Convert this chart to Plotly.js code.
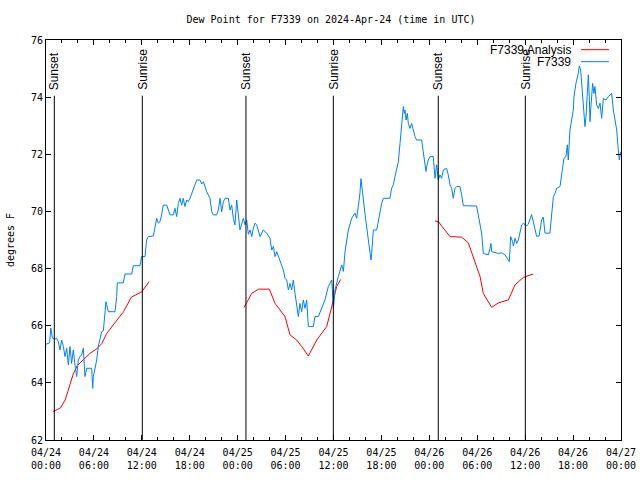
<!DOCTYPE html>
<html>
<head>
<meta charset="utf-8">
<script src="https://cdn.plot.ly/plotly-3.0.1.min.js"></script>
<style>html,body{margin:0;padding:0;background:#fff;}#chart{width:640px;height:480px;}</style>
</head>
<body>
<div id="chart"></div>
<script>
// Hours after 2024-04-24 00:00 UTC
const stationHours = [0.0,0.45,0.6,0.8,1.13,1.34,1.54,1.75,1.96,2.17,2.38,2.59,2.8,3.0,3.21,3.42,3.63,3.84,4.05,4.26,4.47,4.67,4.88,5.09,5.72,5.85,5.93,6.35,6.55,6.76,6.97,7.18,7.39,7.51,7.6,7.8,8.64,8.85,8.93,9.68,9.89,10.73,10.93,11.77,11.98,12.4,12.6,12.81,13.44,13.65,13.86,14.06,14.27,14.48,14.69,15.11,15.32,15.53,15.94,16.15,16.36,16.57,16.78,16.99,17.19,17.4,17.62,17.82,18.03,18.24,18.66,18.87,19.28,19.5,19.71,19.91,20.12,20.54,20.75,20.96,21.37,21.58,21.8,22.0,22.21,22.41,22.83,23.04,23.25,23.46,23.66,23.88,24.08,24.29,24.71,24.92,25.13,25.34,25.55,25.76,25.96,26.17,26.38,26.8,27.21,27.63,28.05,28.26,28.47,28.68,28.89,29.3,29.72,29.93,30.14,30.35,30.55,30.76,30.97,31.18,31.39,31.6,31.8,32.02,32.22,32.43,32.64,32.85,33.47,33.68,34.1,34.52,34.93,35.35,35.78,35.99,36.19,36.6,37.03,37.24,37.44,37.86,38.28,38.69,38.9,39.1,39.31,39.44,39.7,39.95,40.2,40.45,40.7,40.78,40.99,41.41,41.61,41.82,42.03,42.24,43.07,43.28,43.49,43.7,43.91,44.12,44.33,44.54,44.74,44.87,44.95,45.08,45.24,45.37,45.58,45.79,45.99,46.2,46.41,47.04,47.24,47.45,47.58,47.66,47.87,48.08,48.49,48.71,48.91,49.12,49.33,49.54,49.75,50.16,50.37,50.59,50.79,51.0,51.21,51.42,51.84,52.05,52.25,53.92,54.13,54.35,54.55,54.76,55.39,55.6,55.72,55.81,56.64,57.06,57.47,57.76,58.01,58.1,58.18,58.43,58.52,58.73,58.94,59.15,59.36,59.56,59.77,60.2,60.39,60.6,60.81,61.01,61.22,61.43,61.75,62.06,62.27,62.48,63.1,63.32,63.53,63.74,63.95,64.36,64.57,64.7,64.86,65.11,65.28,65.4,65.49,65.61,65.82,66.03,66.11,66.36,66.65,66.78,66.95,67.08,67.28,67.37,67.49,67.62,67.78,67.91,68.03,68.12,68.2,68.45,68.61,68.74,68.95,69.16,69.37,69.58,69.79,70.12,70.41,70.83,71.04,71.25,71.46,71.66,71.79,71.96];
const stationDew = [65.35,65.4,65.92,65.57,65.53,65.56,65.44,65.15,65.5,65.27,64.92,65.21,64.63,65.27,64.68,65.15,64.63,64.22,64.8,64.92,64.98,65.21,64.22,64.51,64.51,63.81,64.22,64.8,65.27,65.56,65.79,65.82,66.55,66.84,66.73,66.49,66.49,67.02,67.5,67.5,67.81,67.81,68.1,68.1,68.42,68.42,69.0,69.12,69.14,69.41,69.76,69.59,69.64,69.88,70.22,70.22,70.05,69.88,69.88,70.11,69.82,70.28,70.46,70.22,70.46,70.17,70.4,70.34,70.46,70.63,70.93,71.1,71.1,70.96,71.04,70.87,70.69,70.46,69.99,69.88,69.88,70.05,70.46,69.99,70.34,70.46,70.46,70.05,70.22,69.76,69.53,70.4,69.82,69.35,69.76,69.53,69.7,69.2,69.35,69.12,69.41,69.59,69.53,69.12,69.35,69.24,69.06,68.65,68.77,68.42,68.59,68.24,67.95,67.66,67.6,67.25,67.48,67.25,67.6,67.13,66.61,66.32,66.78,66.49,66.9,66.61,66.9,65.97,65.97,66.32,66.32,66.61,66.9,67.37,67.6,66.61,67.25,67.72,68.13,67.9,68.59,69.35,69.76,69.94,69.76,70.17,70.63,71.15,70.4,69.9,69.35,68.8,68.3,68.53,69.35,69.35,69.7,69.99,70.28,70.46,70.46,70.81,70.93,71.22,71.45,71.74,72.38,73.08,73.67,73.43,73.55,73.2,73.43,73.08,72.9,73.08,72.85,72.62,72.5,72.5,72.09,71.57,71.4,71.57,71.8,71.92,71.92,71.16,71.63,71.1,71.28,71.16,71.45,71.51,71.28,70.93,70.81,70.46,70.81,70.87,70.87,70.58,70.2,70.19,69.88,69.59,69.24,68.53,68.48,68.71,68.88,68.59,68.53,68.55,68.48,68.36,68.24,68.65,69.12,68.94,68.79,69.06,68.88,69.0,69.24,69.53,69.58,69.5,69.55,69.7,69.89,69.65,69.41,69.13,69.14,69.7,69.8,69.24,69.24,69.88,70.52,70.63,70.81,70.87,71.33,71.63,71.86,71.92,72.33,71.8,72.5,72.85,73.2,73.55,74.02,74.48,74.83,75.09,74.95,74.48,74.02,73.67,72.97,73.32,74.13,74.78,74.02,73.14,73.55,74.48,74.13,74.37,73.73,73.6,73.79,73.26,73.96,73.9,74.02,74.13,73.55,73.2,72.85,72.15,71.8,72.09];

const analysisHours = [0.9,1.8,2.4,3.0,3.4,3.9,4.7,5.5,6.4,7.0,7.6,8.9,9.7,10.7,12.0,12.9,null,24.8,25.76,26.6,27.97,28.68,29.93,30.55,31.39,32.02,32.85,33.9,35.15,35.78,36.4,36.9,null,48.71,49.13,50.59,52.05,52.88,53.72,54.35,54.76,55.81,56.64,57.89,58.73,59.77,61.0];
const analysisDew = [63.0,63.12,63.4,63.95,64.3,64.6,64.8,65.03,65.2,65.38,65.73,66.2,66.49,67.0,67.19,67.54,null,66.64,67.13,67.28,67.28,66.78,66.32,65.68,65.5,65.27,64.94,65.5,65.97,66.67,67.37,67.62,null,69.67,69.64,69.12,69.1,68.9,68.18,67.72,67.13,66.64,66.8,66.9,67.43,67.69,67.81];

const sunHours = [1.04, 12.06, 25.04, 35.98, 49.12, 60.02];
const sunLabels = ['Sunset','Sunrise','Sunset','Sunrise','Sunset','Sunrise'];

const seriesNames = ['F7339 Analysis', 'F7339'];
const seriesColors = ['#ff0000', '#0080ff'];

const base = Date.UTC(2024, 3, 24);
function toDate(h) {
  if (h === null) return null;
  const d = new Date(base + Math.round(h * 3600000));
  return d.toISOString().replace('T', ' ').slice(0, 19);
}

const mono = 'DejaVu Sans Mono, monospace';
const sans = 'Liberation Sans, Arial, sans-serif';

const traces = [
  {x: analysisHours.map(toDate), y: analysisDew, type: 'scatter', mode: 'lines',
   line: {color: seriesColors[0], width: 1}, name: seriesNames[0], showlegend: false, connectgaps: false},
  {x: stationHours.map(toDate), y: stationDew, type: 'scatter', mode: 'lines',
   line: {color: seriesColors[1], width: 1}, name: seriesNames[1], showlegend: false}
];

const shapes = [];
const annotations = [];
sunHours.forEach((h, i) => {
  shapes.push({type: 'line', xref: 'x', yref: 'y', x0: toDate(h), x1: toDate(h), y0: 62, y1: 74.05,
               line: {color: '#000', width: 1}});
  annotations.push({xref: 'x', yref: 'y', x: toDate(h), y: 74.18, text: sunLabels[i], textangle: -90,
                    showarrow: false, xanchor: 'center', yanchor: 'bottom',
                    font: {family: sans, size: 12, color: '#000'}});
});

// manual legend (text right-aligned, sample to the right)
const legY = [0.9758, 0.9458];
seriesNames.forEach((n, i) => {
  annotations.push({xref: 'paper', yref: 'paper', x: 0.9165, y: legY[i], text: n, showarrow: false,
                    xanchor: 'right', yanchor: 'middle', font: {family: sans, size: 12, color: '#000'}});
  shapes.push({type: 'line', xref: 'paper', yref: 'paper', x0: 0.9304, x1: 0.979, y0: legY[i], y1: legY[i],
               line: {color: seriesColors[i], width: 1}});
});

const layout = {
  width: 640, height: 480,
  margin: {l: 46, r: 19, t: 40, b: 40},
  paper_bgcolor: '#fff', plot_bgcolor: '#fff',
  showlegend: false,
  title: {text: 'Dew Point for F7339 on 2024-Apr-24 (time in UTC)', font: {family: mono, size: 10, color: '#000'},
          x: 331/640, xref: 'container', xanchor: 'center', y: 1 - 19/480, yref: 'container', yanchor: 'middle'},
  xaxis: {type: 'date', range: [toDate(0), toDate(72)], tick0: toDate(0), dtick: 6*3600000,
          tickformat: '%m/%d<br>%H:%M', ticks: 'inside', ticklen: 5, tickcolor: '#000', ticklabelstandoff: 3,
          showline: true, linecolor: '#000', linewidth: 1, mirror: 'ticks', showgrid: false, zeroline: false,
          minor: {dtick: 2*3600000, ticks: 'inside', ticklen: 3, tickcolor: '#000', showgrid: false},
          tickfont: {family: mono, size: 10, color: '#000'}},
  yaxis: {range: [62, 76], dtick: 2, ticks: 'inside', ticklen: 5, tickcolor: '#000',
          showline: true, linecolor: '#000', linewidth: 1, mirror: 'ticks', showgrid: false, zeroline: false,
          tickfont: {family: mono, size: 10, color: '#000'},
          title: {text: 'degrees F', font: {family: mono, size: 10, color: '#000'}, standoff: 14}},
  shapes: shapes,
  annotations: annotations
};

Plotly.newPlot('chart', traces, layout, {displayModeBar: false, staticPlot: true});
</script>
</body>
</html>
